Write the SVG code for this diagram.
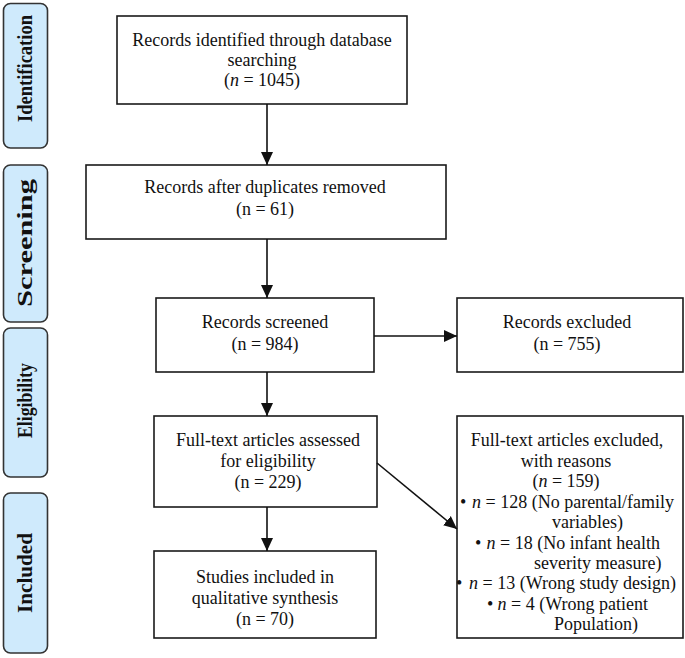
<svg xmlns="http://www.w3.org/2000/svg" width="685" height="658" viewBox="0 0 685 658">
<style>
.bg{fill:#ffffff}
.phase rect{fill:#cfeafc;stroke:#333333;stroke-width:1.6}
.phase text{font-family:"Liberation Serif","Times New Roman",serif;font-weight:bold;font-size:21px;fill:#111;text-anchor:middle}
.node rect{fill:#ffffff;stroke:#1a1a1a;stroke-width:1.6}
.node text{font-family:"Liberation Serif","Times New Roman",serif;font-size:18px;fill:#111;text-anchor:middle}
.node text.l{text-anchor:start}
.i{font-style:italic}
.conn line{stroke:#111;stroke-width:1.6;fill:none}
</style>
<defs>
<marker id="ah" markerUnits="userSpaceOnUse" markerWidth="14" markerHeight="14" viewBox="0 0 14 14" refX="13" refY="7" orient="auto">
<path d="M0,1 L13,7 L0,13 Z" fill="#111"/>
</marker>
</defs>
<rect class="bg" x="0" y="0" width="685" height="658"/>

<g id="phase-identification" class="phase">
<rect x="3.5" y="3.5" width="44" height="144.5" rx="7"/>
<text transform="translate(32,68.5) rotate(-90)" textLength="107" lengthAdjust="spacingAndGlyphs">Identification</text>
</g>
<g id="phase-screening" class="phase">
<rect x="3.5" y="165" width="44" height="157" rx="7"/>
<text transform="translate(32,243) rotate(-90)" textLength="128" lengthAdjust="spacingAndGlyphs">Screening</text>
</g>
<g id="phase-eligibility" class="phase">
<rect x="3.5" y="328" width="44" height="149" rx="7"/>
<text transform="translate(32,400.5) rotate(-90)" textLength="75" lengthAdjust="spacingAndGlyphs">Eligibility</text>
</g>
<g id="phase-included" class="phase">
<rect x="3.5" y="493" width="44" height="160" rx="7"/>
<text transform="translate(32,573) rotate(-90)" textLength="80" lengthAdjust="spacingAndGlyphs">Included</text>
</g>

<g id="identified" class="node">
<rect x="117" y="16" width="290" height="88"/>
<text x="262" y="46">Records identified through database</text>
<text x="262" y="66">searching</text>
<text x="262" y="86">(<tspan class="i">n</tspan> = 1045)</text>
</g>
<g id="duplicates" class="node">
<rect x="86" y="165" width="360" height="74"/>
<text x="265" y="193">Records after duplicates removed</text>
<text x="265" y="215">(n = 61)</text>
</g>
<g id="screened" class="node">
<rect x="156" y="298" width="218" height="74"/>
<text x="265" y="328">Records screened</text>
<text x="265" y="350">(n = 984)</text>
</g>
<g id="excluded" class="node">
<rect x="457" y="298" width="226" height="74"/>
<text x="567" y="328">Records excluded</text>
<text x="567" y="350">(n = 755)</text>
</g>
<g id="fulltext" class="node">
<rect x="154" y="416" width="223" height="91"/>
<text x="268" y="446">Full-text articles assessed</text>
<text x="268" y="467">for eligibility</text>
<text x="268" y="488">(n = 229)</text>
</g>
<g id="included" class="node">
<rect x="154" y="551" width="222" height="87"/>
<text x="265" y="583">Studies included in</text>
<text x="265" y="604">qualitative synthesis</text>
<text x="265" y="625">(n = 70)</text>
</g>
<g id="fulltext-excluded" class="node">
<rect x="457" y="416" width="226" height="222"/>
<text x="567" y="446">Full-text articles excluded,</text>
<text x="566" y="467">with reasons</text>
<text x="566" y="487">(<tspan class="i">n</tspan> = 159)</text>
<text class="l" x="460" y="508">•</text>
<text class="l" x="472" y="508"><tspan class="i">n</tspan> = 128 (No parental/family</text>
<text class="l" x="552" y="528">variables)</text>
<text class="l" x="475" y="549">•</text>
<text class="l" x="486.5" y="549"><tspan class="i">n</tspan> = 18 (No infant health</text>
<text class="l" x="534" y="569">severity measure)</text>
<text class="l" x="456" y="589">•</text>
<text class="l" x="469" y="589"><tspan class="i">n</tspan> = 13 (Wrong study design)</text>
<text class="l" x="487" y="610">•</text>
<text class="l" x="497.5" y="610"><tspan class="i">n</tspan> = 4 (Wrong patient</text>
<text class="l" x="554" y="630">Population)</text>
</g>

<g id="connectors" class="conn">
<line x1="267" y1="104" x2="267" y2="165" marker-end="url(#ah)"/>
<line x1="267" y1="239" x2="267" y2="298" marker-end="url(#ah)"/>
<line x1="374" y1="336" x2="457" y2="336" marker-end="url(#ah)"/>
<line x1="267" y1="372" x2="267" y2="416" marker-end="url(#ah)"/>
<line x1="377" y1="463" x2="457" y2="529" marker-end="url(#ah)"/>
<line x1="267" y1="507" x2="267" y2="551" marker-end="url(#ah)"/>
</g>
</svg>
